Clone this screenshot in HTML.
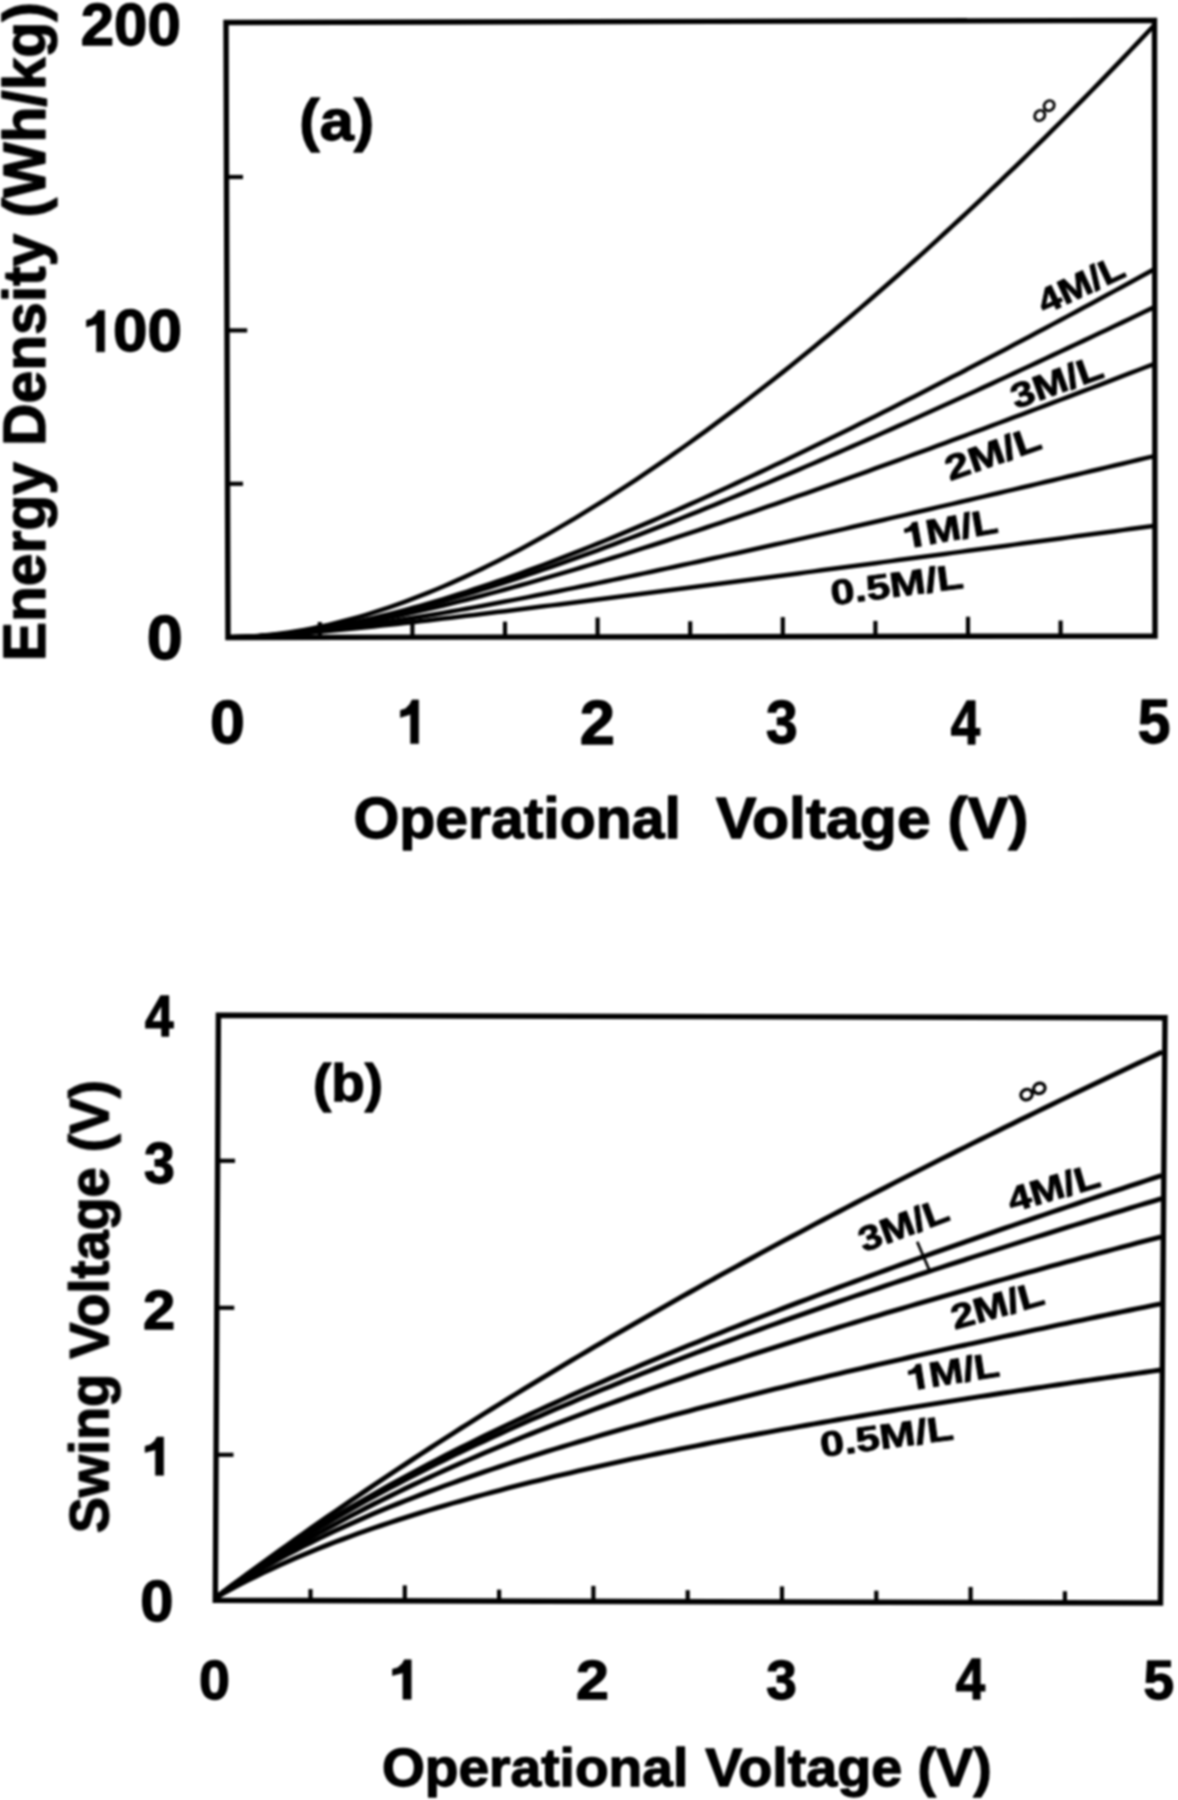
<!DOCTYPE html><html><head><meta charset="utf-8"><style>html,body{margin:0;padding:0;background:#fff;}svg{display:block;}text{font-family:"Liberation Sans",sans-serif;font-weight:bold;}</style></head><body><svg width="1178" height="1800" viewBox="0 0 1178 1800"><defs><filter id="bl" x="-2%" y="-2%" width="104%" height="104%"><feGaussianBlur stdDeviation="0.9"/></filter></defs><rect width="1178" height="1800" fill="#fff"/><g filter="url(#bl)"><g><path d="M226.00,22.50 L1154.50,20.40 L1155.00,636.00 L228.00,637.50 Z" fill="none" stroke="#000" stroke-width="5.4" stroke-linejoin="miter"/><path d="M218.40,1015.30 L1165.00,1017.80 L1160.50,1603.00 L215.30,1600.30 Z" fill="none" stroke="#000" stroke-width="5.4" stroke-linejoin="miter"/><line x1="319.80" y1="637.02" x2="319.80" y2="622.02" stroke="#000" stroke-width="4.2"/><line x1="412.40" y1="636.83" x2="412.40" y2="617.83" stroke="#000" stroke-width="4.2"/><line x1="505.00" y1="636.65" x2="505.00" y2="621.65" stroke="#000" stroke-width="4.2"/><line x1="597.60" y1="636.46" x2="597.60" y2="617.46" stroke="#000" stroke-width="4.2"/><line x1="690.20" y1="636.28" x2="690.20" y2="621.28" stroke="#000" stroke-width="4.2"/><line x1="782.80" y1="636.09" x2="782.80" y2="617.09" stroke="#000" stroke-width="4.2"/><line x1="875.40" y1="635.91" x2="875.40" y2="620.91" stroke="#000" stroke-width="4.2"/><line x1="968.00" y1="635.72" x2="968.00" y2="616.72" stroke="#000" stroke-width="4.2"/><line x1="1060.60" y1="635.54" x2="1060.60" y2="620.54" stroke="#000" stroke-width="4.2"/><line x1="227.20" y1="483.80" x2="243.00" y2="483.80" stroke="#000" stroke-width="4.2"/><line x1="227.20" y1="330.40" x2="247.20" y2="330.40" stroke="#000" stroke-width="4.2"/><line x1="227.20" y1="177.00" x2="243.00" y2="177.00" stroke="#000" stroke-width="4.2"/><line x1="310.50" y1="1602.07" x2="310.50" y2="1589.07" stroke="#000" stroke-width="4.2"/><line x1="404.80" y1="1602.34" x2="404.80" y2="1585.34" stroke="#000" stroke-width="4.2"/><line x1="499.10" y1="1602.61" x2="499.10" y2="1589.61" stroke="#000" stroke-width="4.2"/><line x1="593.40" y1="1602.88" x2="593.40" y2="1585.88" stroke="#000" stroke-width="4.2"/><line x1="687.70" y1="1603.15" x2="687.70" y2="1590.15" stroke="#000" stroke-width="4.2"/><line x1="782.00" y1="1603.42" x2="782.00" y2="1586.42" stroke="#000" stroke-width="4.2"/><line x1="876.30" y1="1603.69" x2="876.30" y2="1590.69" stroke="#000" stroke-width="4.2"/><line x1="970.60" y1="1603.96" x2="970.60" y2="1586.96" stroke="#000" stroke-width="4.2"/><line x1="1064.90" y1="1604.23" x2="1064.90" y2="1591.23" stroke="#000" stroke-width="4.2"/><line x1="216.98" y1="1454.80" x2="233.48" y2="1454.80" stroke="#000" stroke-width="4.2"/><line x1="217.76" y1="1307.80" x2="234.26" y2="1307.80" stroke="#000" stroke-width="4.2"/><line x1="218.54" y1="1160.80" x2="235.04" y2="1160.80" stroke="#000" stroke-width="4.2"/><path d="M227.20,637.20 L234.92,637.11 L242.63,636.86 L250.35,636.47 L258.07,635.94 L265.78,635.26 L273.50,634.44 L281.22,633.49 L288.93,632.41 L296.65,631.19 L304.37,629.85 L312.08,628.38 L319.80,626.79 L327.52,625.08 L335.23,623.25 L342.95,621.30 L350.67,619.24 L358.38,617.08 L366.10,614.80 L373.82,612.41 L381.53,609.92 L389.25,607.33 L396.97,604.64 L404.68,601.84 L412.40,598.95 L420.12,595.97 L427.83,592.89 L435.55,589.72 L443.27,586.46 L450.98,583.11 L458.70,579.67 L466.42,576.14 L474.13,572.54 L481.85,568.85 L489.57,565.07 L497.28,561.22 L505.00,557.29 L512.72,553.28 L520.43,549.19 L528.15,545.03 L535.87,540.80 L543.58,536.49 L551.30,532.12 L559.02,527.67 L566.73,523.15 L574.45,518.56 L582.17,513.91 L589.88,509.19 L597.60,504.41 L605.32,499.56 L613.03,494.65 L620.75,489.67 L628.47,484.64 L636.18,479.54 L643.90,474.38 L651.62,469.17 L659.33,463.89 L667.05,458.56 L674.77,453.17 L682.48,447.73 L690.20,442.23 L697.92,436.67 L705.63,431.06 L713.35,425.40 L721.07,419.68 L728.78,413.92 L736.50,408.10 L744.22,402.22 L751.93,396.30 L759.65,390.33 L767.37,384.31 L775.08,378.24 L782.80,372.12 L790.52,365.95 L798.23,359.74 L805.95,353.47 L813.67,347.17 L821.38,340.81 L829.10,334.41 L836.82,327.96 L844.53,321.46 L852.25,314.92 L859.97,308.34 L867.68,301.71 L875.40,295.04 L883.12,288.32 L890.83,281.56 L898.55,274.75 L906.27,267.90 L913.98,261.01 L921.70,254.07 L929.42,247.10 L937.13,240.07 L944.85,233.01 L952.57,225.90 L960.28,218.75 L968.00,211.56 L975.72,204.33 L983.43,197.05 L991.15,189.73 L998.87,182.37 L1006.58,174.97 L1014.30,167.53 L1022.02,160.04 L1029.73,152.51 L1037.45,144.94 L1045.17,137.32 L1052.88,129.67 L1060.60,121.97 L1068.32,114.23 L1076.03,106.44 L1083.75,98.62 L1091.47,90.75 L1099.18,82.83 L1106.90,74.88 L1114.62,66.88 L1122.33,58.84 L1130.05,50.75 L1137.77,42.62 L1145.48,34.45 L1153.20,26.23" fill="none" stroke="#000" stroke-width="4.5" stroke-linejoin="round"/><path d="M227.20,637.20 L234.92,637.12 L242.63,636.91 L250.35,636.58 L258.07,636.13 L265.78,635.57 L273.50,634.90 L281.22,634.13 L288.93,633.25 L296.65,632.28 L304.37,631.21 L312.08,630.05 L319.80,628.80 L327.52,627.47 L335.23,626.06 L342.95,624.57 L350.67,623.00 L358.38,621.36 L366.10,619.64 L373.82,617.86 L381.53,616.01 L389.25,614.09 L396.97,612.12 L404.68,610.08 L412.40,607.98 L420.12,605.82 L427.83,603.61 L435.55,601.35 L443.27,599.03 L450.98,596.66 L458.70,594.24 L466.42,591.78 L474.13,589.26 L481.85,586.71 L489.57,584.10 L497.28,581.46 L505.00,578.77 L512.72,576.04 L520.43,573.28 L528.15,570.47 L535.87,567.63 L543.58,564.75 L551.30,561.83 L559.02,558.88 L566.73,555.90 L574.45,552.88 L582.17,549.83 L589.88,546.75 L597.60,543.64 L605.32,540.50 L613.03,537.33 L620.75,534.13 L628.47,530.90 L636.18,527.65 L643.90,524.37 L651.62,521.06 L659.33,517.73 L667.05,514.38 L674.77,511.00 L682.48,507.59 L690.20,504.17 L697.92,500.72 L705.63,497.25 L713.35,493.76 L721.07,490.24 L728.78,486.71 L736.50,483.15 L744.22,479.58 L751.93,475.98 L759.65,472.37 L767.37,468.74 L775.08,465.09 L782.80,461.42 L790.52,457.74 L798.23,454.04 L805.95,450.32 L813.67,446.58 L821.38,442.83 L829.10,439.06 L836.82,435.28 L844.53,431.48 L852.25,427.67 L859.97,423.84 L867.68,420.00 L875.40,416.15 L883.12,412.28 L890.83,408.39 L898.55,404.50 L906.27,400.59 L913.98,396.67 L921.70,392.73 L929.42,388.78 L937.13,384.82 L944.85,380.85 L952.57,376.87 L960.28,372.88 L968.00,368.87 L975.72,364.85 L983.43,360.83 L991.15,356.79 L998.87,352.74 L1006.58,348.68 L1014.30,344.61 L1022.02,340.53 L1029.73,336.44 L1037.45,332.35 L1045.17,328.24 L1052.88,324.12 L1060.60,319.99 L1068.32,315.86 L1076.03,311.71 L1083.75,307.56 L1091.47,303.40 L1099.18,299.23 L1106.90,295.05 L1114.62,290.86 L1122.33,286.67 L1130.05,282.46 L1137.77,278.25 L1145.48,274.03 L1153.20,269.81" fill="none" stroke="#000" stroke-width="4.5" stroke-linejoin="round"/><path d="M227.20,637.20 L234.92,637.12 L242.63,636.92 L250.35,636.59 L258.07,636.15 L265.78,635.60 L273.50,634.95 L281.22,634.20 L288.93,633.35 L296.65,632.41 L304.37,631.38 L312.08,630.27 L319.80,629.07 L327.52,627.80 L335.23,626.45 L342.95,625.03 L350.67,623.54 L358.38,621.98 L366.10,620.36 L373.82,618.68 L381.53,616.93 L389.25,615.13 L396.97,613.27 L404.68,611.36 L412.40,609.40 L420.12,607.38 L427.83,605.32 L435.55,603.21 L443.27,601.06 L450.98,598.86 L458.70,596.61 L466.42,594.33 L474.13,592.01 L481.85,589.65 L489.57,587.25 L497.28,584.81 L505.00,582.34 L512.72,579.83 L520.43,577.29 L528.15,574.72 L535.87,572.12 L543.58,569.49 L551.30,566.82 L559.02,564.13 L566.73,561.41 L574.45,558.67 L582.17,555.89 L589.88,553.10 L597.60,550.27 L605.32,547.42 L613.03,544.55 L620.75,541.66 L628.47,538.74 L636.18,535.80 L643.90,532.84 L651.62,529.86 L659.33,526.85 L667.05,523.83 L674.77,520.79 L682.48,517.73 L690.20,514.65 L697.92,511.56 L705.63,508.44 L713.35,505.31 L721.07,502.16 L728.78,499.00 L736.50,495.82 L744.22,492.62 L751.93,489.41 L759.65,486.19 L767.37,482.95 L775.08,479.69 L782.80,476.42 L790.52,473.14 L798.23,469.84 L805.95,466.54 L813.67,463.21 L821.38,459.88 L829.10,456.53 L836.82,453.18 L844.53,449.81 L852.25,446.43 L859.97,443.03 L867.68,439.63 L875.40,436.22 L883.12,432.79 L890.83,429.36 L898.55,425.91 L906.27,422.46 L913.98,418.99 L921.70,415.52 L929.42,412.03 L937.13,408.54 L944.85,405.04 L952.57,401.53 L960.28,398.01 L968.00,394.48 L975.72,390.94 L983.43,387.40 L991.15,383.85 L998.87,380.29 L1006.58,376.72 L1014.30,373.14 L1022.02,369.56 L1029.73,365.97 L1037.45,362.37 L1045.17,358.77 L1052.88,355.15 L1060.60,351.53 L1068.32,347.91 L1076.03,344.28 L1083.75,340.64 L1091.47,336.99 L1099.18,333.34 L1106.90,329.68 L1114.62,326.02 L1122.33,322.35 L1130.05,318.68 L1137.77,314.99 L1145.48,311.31 L1153.20,307.62" fill="none" stroke="#000" stroke-width="4.5" stroke-linejoin="round"/><path d="M227.20,637.20 L234.92,637.13 L242.63,636.94 L250.35,636.64 L258.07,636.24 L265.78,635.74 L273.50,635.15 L281.22,634.47 L288.93,633.70 L296.65,632.86 L304.37,631.94 L312.08,630.94 L319.80,629.88 L327.52,628.75 L335.23,627.56 L342.95,626.30 L350.67,624.99 L358.38,623.62 L366.10,622.20 L373.82,620.73 L381.53,619.21 L389.25,617.64 L396.97,616.03 L404.68,614.37 L412.40,612.67 L420.12,610.93 L427.83,609.15 L435.55,607.34 L443.27,605.48 L450.98,603.60 L458.70,601.68 L466.42,599.73 L474.13,597.74 L481.85,595.73 L489.57,593.69 L497.28,591.62 L505.00,589.52 L512.72,587.39 L520.43,585.25 L528.15,583.07 L535.87,580.87 L543.58,578.65 L551.30,576.41 L559.02,574.15 L566.73,571.86 L574.45,569.56 L582.17,567.23 L589.88,564.88 L597.60,562.52 L605.32,560.14 L613.03,557.74 L620.75,555.33 L628.47,552.89 L636.18,550.44 L643.90,547.98 L651.62,545.50 L659.33,543.01 L667.05,540.50 L674.77,537.98 L682.48,535.44 L690.20,532.89 L697.92,530.33 L705.63,527.75 L713.35,525.17 L721.07,522.57 L728.78,519.96 L736.50,517.33 L744.22,514.70 L751.93,512.06 L759.65,509.40 L767.37,506.74 L775.08,504.06 L782.80,501.38 L790.52,498.68 L798.23,495.98 L805.95,493.27 L813.67,490.55 L821.38,487.82 L829.10,485.08 L836.82,482.33 L844.53,479.57 L852.25,476.81 L859.97,474.04 L867.68,471.26 L875.40,468.47 L883.12,465.68 L890.83,462.88 L898.55,460.07 L906.27,457.26 L913.98,454.44 L921.70,451.61 L929.42,448.77 L937.13,445.93 L944.85,443.09 L952.57,440.23 L960.28,437.38 L968.00,434.51 L975.72,431.64 L983.43,428.77 L991.15,425.89 L998.87,423.00 L1006.58,420.11 L1014.30,417.21 L1022.02,414.31 L1029.73,411.40 L1037.45,408.49 L1045.17,405.57 L1052.88,402.65 L1060.60,399.73 L1068.32,396.80 L1076.03,393.86 L1083.75,390.92 L1091.47,387.98 L1099.18,385.03 L1106.90,382.08 L1114.62,379.12 L1122.33,376.17 L1130.05,373.20 L1137.77,370.23 L1145.48,367.26 L1153.20,364.29" fill="none" stroke="#000" stroke-width="4.5" stroke-linejoin="round"/><path d="M227.20,637.20 L234.92,637.13 L242.63,636.96 L250.35,636.70 L258.07,636.35 L265.78,635.93 L273.50,635.43 L281.22,634.86 L288.93,634.23 L296.65,633.54 L304.37,632.79 L312.08,631.99 L319.80,631.14 L327.52,630.25 L335.23,629.32 L342.95,628.34 L350.67,627.33 L358.38,626.28 L366.10,625.20 L373.82,624.08 L381.53,622.94 L389.25,621.77 L396.97,620.57 L404.68,619.34 L412.40,618.09 L420.12,616.82 L427.83,615.52 L435.55,614.21 L443.27,612.87 L450.98,611.52 L458.70,610.15 L466.42,608.76 L474.13,607.35 L481.85,605.93 L489.57,604.49 L497.28,603.04 L505.00,601.57 L512.72,600.09 L520.43,598.60 L528.15,597.10 L535.87,595.58 L543.58,594.05 L551.30,592.52 L559.02,590.97 L566.73,589.41 L574.45,587.84 L582.17,586.26 L589.88,584.68 L597.60,583.08 L605.32,581.48 L613.03,579.87 L620.75,578.25 L628.47,576.62 L636.18,574.99 L643.90,573.35 L651.62,571.70 L659.33,570.05 L667.05,568.38 L674.77,566.72 L682.48,565.05 L690.20,563.37 L697.92,561.68 L705.63,559.99 L713.35,558.30 L721.07,556.60 L728.78,554.89 L736.50,553.18 L744.22,551.47 L751.93,549.75 L759.65,548.03 L767.37,546.30 L775.08,544.57 L782.80,542.83 L790.52,541.10 L798.23,539.35 L805.95,537.61 L813.67,535.86 L821.38,534.10 L829.10,532.34 L836.82,530.58 L844.53,528.82 L852.25,527.05 L859.97,525.28 L867.68,523.51 L875.40,521.73 L883.12,519.95 L890.83,518.17 L898.55,516.39 L906.27,514.60 L913.98,512.81 L921.70,511.02 L929.42,509.23 L937.13,507.43 L944.85,505.63 L952.57,503.83 L960.28,502.02 L968.00,500.22 L975.72,498.41 L983.43,496.60 L991.15,494.79 L998.87,492.97 L1006.58,491.16 L1014.30,489.34 L1022.02,487.52 L1029.73,485.70 L1037.45,483.88 L1045.17,482.05 L1052.88,480.22 L1060.60,478.39 L1068.32,476.56 L1076.03,474.73 L1083.75,472.90 L1091.47,471.06 L1099.18,469.23 L1106.90,467.39 L1114.62,465.55 L1122.33,463.71 L1130.05,461.87 L1137.77,460.02 L1145.48,458.18 L1153.20,456.33" fill="none" stroke="#000" stroke-width="4.5" stroke-linejoin="round"/><path d="M227.20,637.20 L234.92,637.13 L242.63,636.95 L250.35,636.68 L258.07,636.34 L265.78,635.93 L273.50,635.47 L281.22,634.95 L288.93,634.40 L296.65,633.80 L304.37,633.17 L312.08,632.51 L319.80,631.82 L327.52,631.11 L335.23,630.38 L342.95,629.62 L350.67,628.85 L358.38,628.06 L366.10,627.25 L373.82,626.43 L381.53,625.60 L389.25,624.76 L396.97,623.90 L404.68,623.04 L412.40,622.17 L420.12,621.28 L427.83,620.39 L435.55,619.49 L443.27,618.59 L450.98,617.68 L458.70,616.76 L466.42,615.84 L474.13,614.91 L481.85,613.97 L489.57,613.04 L497.28,612.09 L505.00,611.15 L512.72,610.19 L520.43,609.24 L528.15,608.28 L535.87,607.32 L543.58,606.35 L551.30,605.39 L559.02,604.41 L566.73,603.44 L574.45,602.46 L582.17,601.49 L589.88,600.50 L597.60,599.52 L605.32,598.53 L613.03,597.55 L620.75,596.56 L628.47,595.56 L636.18,594.57 L643.90,593.58 L651.62,592.58 L659.33,591.58 L667.05,590.58 L674.77,589.58 L682.48,588.58 L690.20,587.57 L697.92,586.57 L705.63,585.56 L713.35,584.55 L721.07,583.54 L728.78,582.53 L736.50,581.52 L744.22,580.51 L751.93,579.50 L759.65,578.48 L767.37,577.47 L775.08,576.45 L782.80,575.43 L790.52,574.41 L798.23,573.40 L805.95,572.38 L813.67,571.36 L821.38,570.34 L829.10,569.31 L836.82,568.29 L844.53,567.27 L852.25,566.24 L859.97,565.22 L867.68,564.20 L875.40,563.17 L883.12,562.14 L890.83,561.12 L898.55,560.09 L906.27,559.06 L913.98,558.03 L921.70,557.01 L929.42,555.98 L937.13,554.95 L944.85,553.92 L952.57,552.89 L960.28,551.86 L968.00,550.82 L975.72,549.79 L983.43,548.76 L991.15,547.73 L998.87,546.69 L1006.58,545.66 L1014.30,544.63 L1022.02,543.59 L1029.73,542.56 L1037.45,541.52 L1045.17,540.49 L1052.88,539.45 L1060.60,538.42 L1068.32,537.38 L1076.03,536.35 L1083.75,535.31 L1091.47,534.27 L1099.18,533.24 L1106.90,532.20 L1114.62,531.16 L1122.33,530.12 L1130.05,529.08 L1137.77,528.05 L1145.48,527.01 L1153.20,525.97" fill="none" stroke="#000" stroke-width="4.5" stroke-linejoin="round"/><path d="M216.22,1597.39 L224.11,1591.43 L232.00,1585.52 L239.89,1579.64 L247.78,1573.80 L255.67,1568.00 L263.56,1562.23 L271.45,1556.50 L279.34,1550.81 L287.23,1545.15 L295.11,1539.52 L303.00,1533.93 L310.89,1528.37 L318.78,1522.84 L326.67,1517.35 L334.55,1511.89 L342.44,1506.46 L350.33,1501.06 L358.22,1495.69 L366.10,1490.35 L373.99,1485.03 L381.88,1479.75 L389.76,1474.50 L397.65,1469.27 L405.53,1464.08 L413.42,1458.91 L421.31,1453.76 L429.19,1448.65 L437.08,1443.56 L444.96,1438.49 L452.85,1433.45 L460.73,1428.44 L468.62,1423.45 L476.50,1418.48 L484.39,1413.54 L492.27,1408.62 L500.16,1403.73 L508.04,1398.86 L515.92,1394.01 L523.81,1389.18 L531.69,1384.38 L539.58,1379.59 L547.46,1374.83 L555.34,1370.09 L563.23,1365.37 L571.11,1360.67 L578.99,1356.00 L586.88,1351.34 L594.76,1346.70 L602.64,1342.08 L610.53,1337.48 L618.41,1332.90 L626.29,1328.34 L634.17,1323.80 L642.06,1319.27 L649.94,1314.77 L657.82,1310.28 L665.70,1305.81 L673.58,1301.35 L681.47,1296.92 L689.35,1292.50 L697.23,1288.09 L705.11,1283.71 L712.99,1279.34 L720.88,1274.98 L728.76,1270.65 L736.64,1266.32 L744.52,1262.02 L752.40,1257.73 L760.28,1253.45 L768.16,1249.19 L776.04,1244.94 L783.92,1240.71 L791.81,1236.50 L799.69,1232.29 L807.57,1228.10 L815.45,1223.93 L823.33,1219.77 L831.21,1215.62 L839.09,1211.49 L846.97,1207.37 L854.85,1203.26 L862.73,1199.17 L870.61,1195.09 L878.49,1191.02 L886.37,1186.96 L894.25,1182.92 L902.13,1178.89 L910.01,1174.87 L917.89,1170.87 L925.77,1166.87 L933.65,1162.89 L941.53,1158.92 L949.41,1154.96 L957.29,1151.01 L965.17,1147.07 L973.05,1143.15 L980.92,1139.23 L988.80,1135.33 L996.68,1131.43 L1004.56,1127.55 L1012.44,1123.68 L1020.32,1119.82 L1028.20,1115.97 L1036.08,1112.13 L1043.96,1108.30 L1051.83,1104.48 L1059.71,1100.66 L1067.59,1096.86 L1075.47,1093.07 L1083.35,1089.29 L1091.23,1085.52 L1099.11,1081.76 L1106.98,1078.00 L1114.86,1074.26 L1122.74,1070.52 L1130.62,1066.80 L1138.50,1063.08 L1146.38,1059.37 L1154.25,1055.67 L1162.13,1051.98" fill="none" stroke="#000" stroke-width="4.9" stroke-linejoin="round"/><path d="M216.22,1597.39 L224.11,1591.38 L232.00,1585.47 L239.89,1579.68 L247.78,1573.98 L255.67,1568.39 L263.56,1562.89 L271.44,1557.48 L279.33,1552.15 L287.22,1546.91 L295.10,1541.76 L302.99,1536.67 L310.87,1531.67 L318.76,1526.73 L326.64,1521.87 L334.53,1517.07 L342.41,1512.34 L350.29,1507.67 L358.18,1503.06 L366.06,1498.50 L373.94,1494.01 L381.82,1489.57 L389.70,1485.18 L397.59,1480.84 L405.47,1476.55 L413.35,1472.31 L421.23,1468.11 L429.11,1463.96 L436.99,1459.86 L444.87,1455.79 L452.75,1451.77 L460.63,1447.78 L468.51,1443.84 L476.39,1439.93 L484.27,1436.06 L492.15,1432.22 L500.02,1428.42 L507.90,1424.65 L515.78,1420.91 L523.66,1417.20 L531.54,1413.53 L539.41,1409.88 L547.29,1406.26 L555.17,1402.67 L563.05,1399.11 L570.92,1395.58 L578.80,1392.07 L586.68,1388.59 L594.56,1385.13 L602.43,1381.69 L610.31,1378.28 L618.19,1374.89 L626.06,1371.53 L633.94,1368.18 L641.81,1364.86 L649.69,1361.56 L657.57,1358.27 L665.44,1355.01 L673.32,1351.77 L681.19,1348.54 L689.07,1345.34 L696.94,1342.15 L704.82,1338.98 L712.69,1335.82 L720.57,1332.69 L728.44,1329.57 L736.32,1326.46 L744.19,1323.37 L752.07,1320.30 L759.94,1317.24 L767.82,1314.20 L775.69,1311.17 L783.57,1308.15 L791.44,1305.15 L799.32,1302.16 L807.19,1299.19 L815.06,1296.23 L822.94,1293.28 L830.81,1290.34 L838.69,1287.41 L846.56,1284.50 L854.43,1281.60 L862.31,1278.71 L870.18,1275.83 L878.05,1272.96 L885.93,1270.11 L893.80,1267.26 L901.68,1264.43 L909.55,1261.60 L917.42,1258.78 L925.30,1255.98 L933.17,1253.18 L941.04,1250.39 L948.92,1247.62 L956.79,1244.85 L964.66,1242.09 L972.53,1239.34 L980.41,1236.60 L988.28,1233.86 L996.15,1231.14 L1004.03,1228.42 L1011.90,1225.71 L1019.77,1223.01 L1027.64,1220.31 L1035.52,1217.63 L1043.39,1214.95 L1051.26,1212.28 L1059.14,1209.61 L1067.01,1206.96 L1074.88,1204.31 L1082.75,1201.66 L1090.63,1199.03 L1098.50,1196.40 L1106.37,1193.77 L1114.24,1191.16 L1122.11,1188.55 L1129.99,1185.94 L1137.86,1183.34 L1145.73,1180.75 L1153.60,1178.17 L1161.48,1175.59" fill="none" stroke="#000" stroke-width="4.9" stroke-linejoin="round"/><path d="M216.22,1597.39 L224.11,1591.43 L232.00,1585.59 L239.89,1579.86 L247.78,1574.25 L255.67,1568.74 L263.55,1563.33 L271.44,1558.03 L279.33,1552.81 L287.21,1547.69 L295.10,1542.65 L302.98,1537.70 L310.87,1532.82 L318.75,1528.02 L326.63,1523.30 L334.52,1518.65 L342.40,1514.06 L350.28,1509.55 L358.17,1505.09 L366.05,1500.70 L373.93,1496.37 L381.81,1492.09 L389.69,1487.87 L397.57,1483.71 L405.45,1479.59 L413.33,1475.53 L421.21,1471.51 L429.09,1467.54 L436.97,1463.62 L444.85,1459.74 L452.73,1455.90 L460.61,1452.10 L468.48,1448.35 L476.36,1444.63 L484.24,1440.95 L492.12,1437.31 L500.00,1433.70 L507.87,1430.13 L515.75,1426.59 L523.63,1423.08 L531.50,1419.60 L539.38,1416.16 L547.26,1412.74 L555.13,1409.36 L563.01,1406.00 L570.89,1402.67 L578.76,1399.36 L586.64,1396.08 L594.51,1392.83 L602.39,1389.60 L610.27,1386.40 L618.14,1383.22 L626.02,1380.06 L633.89,1376.92 L641.77,1373.81 L649.64,1370.72 L657.52,1367.64 L665.39,1364.59 L673.27,1361.56 L681.14,1358.54 L689.01,1355.55 L696.89,1352.57 L704.76,1349.61 L712.64,1346.67 L720.51,1343.75 L728.38,1340.84 L736.26,1337.95 L744.13,1335.07 L752.01,1332.21 L759.88,1329.37 L767.75,1326.54 L775.63,1323.72 L783.50,1320.92 L791.37,1318.13 L799.25,1315.36 L807.12,1312.60 L814.99,1309.85 L822.86,1307.12 L830.74,1304.39 L838.61,1301.68 L846.48,1298.99 L854.36,1296.30 L862.23,1293.62 L870.10,1290.96 L877.97,1288.31 L885.85,1285.67 L893.72,1283.04 L901.59,1280.41 L909.46,1277.80 L917.34,1275.20 L925.21,1272.61 L933.08,1270.03 L940.95,1267.46 L948.82,1264.90 L956.70,1262.34 L964.57,1259.80 L972.44,1257.26 L980.31,1254.74 L988.18,1252.22 L996.06,1249.71 L1003.93,1247.21 L1011.80,1244.71 L1019.67,1242.22 L1027.54,1239.75 L1035.41,1237.27 L1043.28,1234.81 L1051.16,1232.35 L1059.03,1229.91 L1066.90,1227.46 L1074.77,1225.03 L1082.64,1222.60 L1090.51,1220.18 L1098.38,1217.76 L1106.26,1215.35 L1114.13,1212.95 L1122.00,1210.56 L1129.87,1208.17 L1137.74,1205.78 L1145.61,1203.40 L1153.48,1201.03 L1161.35,1198.67" fill="none" stroke="#000" stroke-width="4.9" stroke-linejoin="round"/><path d="M216.22,1597.39 L224.11,1591.88 L232.00,1586.47 L239.88,1581.17 L247.77,1575.98 L255.66,1570.88 L263.54,1565.88 L271.43,1560.97 L279.31,1556.15 L287.19,1551.41 L295.08,1546.75 L302.96,1542.17 L310.84,1537.66 L318.72,1533.23 L326.61,1528.86 L334.49,1524.57 L342.37,1520.33 L350.25,1516.16 L358.13,1512.05 L366.01,1508.00 L373.89,1504.01 L381.77,1500.07 L389.65,1496.18 L397.53,1492.35 L405.40,1488.56 L413.28,1484.82 L421.16,1481.13 L429.04,1477.49 L436.92,1473.88 L444.79,1470.32 L452.67,1466.80 L460.55,1463.32 L468.42,1459.88 L476.30,1456.48 L484.18,1453.11 L492.05,1449.78 L499.93,1446.48 L507.80,1443.22 L515.68,1439.99 L523.56,1436.79 L531.43,1433.62 L539.31,1430.48 L547.18,1427.37 L555.06,1424.29 L562.93,1421.24 L570.80,1418.21 L578.68,1415.21 L586.55,1412.23 L594.43,1409.28 L602.30,1406.36 L610.18,1403.45 L618.05,1400.58 L625.92,1397.72 L633.80,1394.88 L641.67,1392.07 L649.54,1389.28 L657.42,1386.51 L665.29,1383.75 L673.16,1381.02 L681.03,1378.31 L688.91,1375.61 L696.78,1372.93 L704.65,1370.28 L712.53,1367.63 L720.40,1365.01 L728.27,1362.40 L736.14,1359.81 L744.01,1357.23 L751.89,1354.67 L759.76,1352.12 L767.63,1349.59 L775.50,1347.08 L783.37,1344.57 L791.25,1342.09 L799.12,1339.61 L806.99,1337.15 L814.86,1334.70 L822.73,1332.27 L830.60,1329.84 L838.47,1327.43 L846.34,1325.03 L854.22,1322.65 L862.09,1320.27 L869.96,1317.91 L877.83,1315.56 L885.70,1313.21 L893.57,1310.88 L901.44,1308.56 L909.31,1306.25 L917.18,1303.95 L925.05,1301.66 L932.92,1299.38 L940.79,1297.11 L948.66,1294.85 L956.54,1292.60 L964.41,1290.35 L972.28,1288.12 L980.15,1285.89 L988.02,1283.67 L995.89,1281.47 L1003.76,1279.26 L1011.63,1277.07 L1019.50,1274.89 L1027.37,1272.71 L1035.24,1270.54 L1043.11,1268.38 L1050.98,1266.23 L1058.85,1264.08 L1066.72,1261.94 L1074.59,1259.81 L1082.46,1257.68 L1090.33,1255.56 L1098.20,1253.45 L1106.06,1251.35 L1113.93,1249.25 L1121.80,1247.16 L1129.67,1245.07 L1137.54,1242.99 L1145.41,1240.92 L1153.28,1238.85 L1161.15,1236.79" fill="none" stroke="#000" stroke-width="4.9" stroke-linejoin="round"/><path d="M216.22,1597.39 L224.11,1592.07 L232.00,1586.92 L239.88,1581.92 L247.77,1577.06 L255.65,1572.33 L263.53,1567.73 L271.41,1563.26 L279.30,1558.89 L287.18,1554.64 L295.06,1550.49 L302.94,1546.43 L310.82,1542.47 L318.70,1538.59 L326.57,1534.80 L334.45,1531.09 L342.33,1527.46 L350.21,1523.90 L358.08,1520.41 L365.96,1516.98 L373.84,1513.62 L381.71,1510.32 L389.59,1507.07 L397.46,1503.89 L405.34,1500.75 L413.21,1497.67 L421.09,1494.64 L428.96,1491.65 L436.84,1488.71 L444.71,1485.81 L452.58,1482.95 L460.46,1480.14 L468.33,1477.36 L476.20,1474.62 L484.08,1471.92 L491.95,1469.25 L499.82,1466.62 L507.69,1464.01 L515.57,1461.44 L523.44,1458.90 L531.31,1456.39 L539.18,1453.90 L547.05,1451.45 L554.92,1449.02 L562.80,1446.61 L570.67,1444.23 L578.54,1441.87 L586.41,1439.54 L594.28,1437.23 L602.15,1434.94 L610.02,1432.67 L617.89,1430.42 L625.76,1428.20 L633.63,1425.99 L641.50,1423.80 L649.37,1421.63 L657.24,1419.47 L665.11,1417.33 L672.98,1415.21 L680.85,1413.11 L688.72,1411.02 L696.59,1408.95 L704.46,1406.89 L712.33,1404.84 L720.20,1402.81 L728.07,1400.80 L735.94,1398.79 L743.80,1396.80 L751.67,1394.83 L759.54,1392.86 L767.41,1390.91 L775.28,1388.97 L783.15,1387.04 L791.02,1385.12 L798.89,1383.21 L806.75,1381.31 L814.62,1379.42 L822.49,1377.55 L830.36,1375.68 L838.23,1373.82 L846.10,1371.98 L853.96,1370.14 L861.83,1368.31 L869.70,1366.49 L877.57,1364.67 L885.44,1362.87 L893.30,1361.07 L901.17,1359.29 L909.04,1357.51 L916.91,1355.73 L924.78,1353.97 L932.64,1352.21 L940.51,1350.46 L948.38,1348.72 L956.25,1346.98 L964.11,1345.25 L971.98,1343.53 L979.85,1341.81 L987.72,1340.10 L995.58,1338.40 L1003.45,1336.70 L1011.32,1335.01 L1019.19,1333.32 L1027.05,1331.64 L1034.92,1329.97 L1042.79,1328.30 L1050.66,1326.63 L1058.52,1324.97 L1066.39,1323.32 L1074.26,1321.67 L1082.12,1320.03 L1089.99,1318.39 L1097.86,1316.76 L1105.73,1315.13 L1113.59,1313.50 L1121.46,1311.88 L1129.33,1310.27 L1137.19,1308.66 L1145.06,1307.05 L1152.93,1305.45 L1160.80,1303.85" fill="none" stroke="#000" stroke-width="4.9" stroke-linejoin="round"/><path d="M216.22,1597.39 L224.11,1592.95 L231.99,1588.64 L239.87,1584.46 L247.75,1580.41 L255.63,1576.47 L263.51,1572.65 L271.38,1568.92 L279.26,1565.30 L287.14,1561.77 L295.02,1558.33 L302.89,1554.97 L310.77,1551.70 L318.64,1548.50 L326.52,1545.38 L334.39,1542.33 L342.27,1539.34 L350.14,1536.43 L358.01,1533.57 L365.89,1530.77 L373.76,1528.03 L381.63,1525.34 L389.51,1522.71 L397.38,1520.12 L405.25,1517.58 L413.12,1515.09 L420.99,1512.65 L428.86,1510.24 L436.74,1507.88 L444.61,1505.56 L452.48,1503.27 L460.35,1501.02 L468.22,1498.81 L476.09,1496.63 L483.96,1494.49 L491.83,1492.37 L499.70,1490.29 L507.57,1488.23 L515.43,1486.21 L523.30,1484.21 L531.17,1482.24 L539.04,1480.30 L546.91,1478.38 L554.78,1476.48 L562.65,1474.61 L570.52,1472.76 L578.38,1470.94 L586.25,1469.13 L594.12,1467.35 L601.99,1465.58 L609.85,1463.84 L617.72,1462.12 L625.59,1460.41 L633.46,1458.72 L641.32,1457.05 L649.19,1455.39 L657.06,1453.76 L664.93,1452.13 L672.79,1450.53 L680.66,1448.94 L688.53,1447.36 L696.39,1445.80 L704.26,1444.25 L712.13,1442.71 L719.99,1441.19 L727.86,1439.68 L735.73,1438.19 L743.59,1436.70 L751.46,1435.23 L759.32,1433.77 L767.19,1432.32 L775.06,1430.89 L782.92,1429.46 L790.79,1428.04 L798.65,1426.64 L806.52,1425.24 L814.39,1423.86 L822.25,1422.48 L830.12,1421.11 L837.98,1419.76 L845.85,1418.41 L853.71,1417.07 L861.58,1415.74 L869.45,1414.41 L877.31,1413.10 L885.18,1411.79 L893.04,1410.49 L900.91,1409.20 L908.77,1407.92 L916.64,1406.64 L924.50,1405.37 L932.37,1404.11 L940.23,1402.85 L948.10,1401.60 L955.96,1400.36 L963.83,1399.13 L971.69,1397.90 L979.56,1396.67 L987.42,1395.46 L995.29,1394.25 L1003.15,1393.04 L1011.02,1391.84 L1018.88,1390.65 L1026.75,1389.46 L1034.61,1388.28 L1042.48,1387.10 L1050.34,1385.93 L1058.21,1384.76 L1066.07,1383.60 L1073.94,1382.44 L1081.80,1381.29 L1089.66,1380.14 L1097.53,1378.99 L1105.39,1377.86 L1113.26,1376.72 L1121.12,1375.59 L1128.99,1374.47 L1136.85,1373.35 L1144.72,1372.23 L1152.58,1371.11 L1160.44,1370.01" fill="none" stroke="#000" stroke-width="4.9" stroke-linejoin="round"/><g transform="translate(1044.45,110.60) rotate(-46.30)"><ellipse cx="-6.80" cy="0" rx="5.40" ry="4.80" fill="none" stroke="#000" stroke-width="2.8"/><ellipse cx="6.80" cy="0" rx="5.40" ry="4.80" fill="none" stroke="#000" stroke-width="2.8"/></g><g transform="translate(1032.95,1091.50) rotate(-25.80)"><ellipse cx="-7.10" cy="0" rx="5.80" ry="5.10" fill="none" stroke="#000" stroke-width="3.3"/><ellipse cx="7.10" cy="0" rx="5.80" ry="5.10" fill="none" stroke="#000" stroke-width="3.3"/></g><line x1="917.20" y1="1241.80" x2="929.40" y2="1270.30" stroke="#000" stroke-width="2.8"/></g><g font-family="Liberation Sans, sans-serif" font-weight="bold" fill="#000" stroke="#000" stroke-width="1.3" stroke-linejoin="round"><text transform="translate(80.80,44.71) scale(1.0132,1)" font-size="59.15">200</text><path d="M96.55,351.80 L104.60,351.80 L104.60,310.40 L98.01,310.40 L95.82,314.54 L91.42,318.68 L86.30,320.34 L86.30,326.96 L96.55,324.06 Z" fill="#000" stroke="#000" stroke-width="0.6"/><text transform="translate(112.92,351.22) scale(1.0640,1)" font-size="58.31">00</text><text transform="translate(146.81,659.48) scale(1.0439,1)" font-size="62.11">0</text><text transform="translate(210.09,742.98) scale(1.0193,1)" font-size="61.55">0</text><text transform="translate(579.68,743.60) scale(1.0145,1)" font-size="62.43">2</text><text transform="translate(765.98,742.98) scale(0.9256,1)" font-size="61.55">3</text><text transform="translate(950.81,743.60) scale(0.8352,1)" font-size="63.33">4</text><text transform="translate(1137.64,742.98) scale(0.9419,1)" font-size="62.43">5</text><path d="M410.59,743.60 L418.60,743.60 L418.60,699.90 L412.05,699.90 L409.86,704.27 L405.50,708.64 L400.40,710.39 L400.40,717.38 L410.59,714.32 Z" fill="#000" stroke="#000" stroke-width="0.6"/><text transform="translate(353.44,838.30) scale(1.0109,1)" font-size="58.30">Operational</text><text transform="translate(715.99,838.30) scale(1.0410,1)" font-size="58.30">Voltage (V)</text><text transform="translate(44.90,657.40) rotate(-90) scale(0.9869,1) translate(-3.87,0)" font-size="59.50">Energy Density (Wh/kg)</text><text transform="translate(299.33,139.67) scale(1.0620,1)" font-size="57.75">(a)</text><text transform="translate(144.93,1035.60) scale(0.9025,1)" font-size="56.96">4</text><text transform="translate(144.01,1182.82) scale(0.9551,1)" font-size="58.17">3</text><text transform="translate(143.07,1328.50) scale(1.0290,1)" font-size="56.29">2</text><text transform="translate(140.31,1620.92) scale(1.0304,1)" font-size="58.03">0</text><path d="M155.46,1475.30 L163.60,1475.30 L163.60,1437.10 L156.94,1437.10 L154.72,1440.92 L150.28,1444.74 L145.10,1446.27 L145.10,1452.38 L155.46,1449.71 Z" fill="#000" stroke="#000" stroke-width="0.6"/><text transform="translate(198.98,1698.65) scale(1.0015,1)" font-size="55.49">0</text><text transform="translate(575.93,1699.20) scale(1.0512,1)" font-size="56.29">2</text><text transform="translate(766.33,1698.65) scale(0.9902,1)" font-size="55.49">3</text><text transform="translate(955.81,1699.20) scale(0.9264,1)" font-size="57.10">4</text><text transform="translate(1143.55,1698.64) scale(0.9772,1)" font-size="56.29">5</text><path d="M402.93,1699.20 L411.20,1699.20 L411.20,1659.80 L404.43,1659.80 L402.18,1663.74 L397.66,1667.68 L392.40,1669.26 L392.40,1675.56 L402.93,1672.80 Z" fill="#000" stroke="#000" stroke-width="0.6"/><text transform="translate(381.89,1785.80) scale(1.0232,1)" font-size="53.90">Operational</text><text transform="translate(705.34,1785.80) scale(1.0323,1)" font-size="53.90">Voltage (V)</text><text transform="translate(108.30,1531.60) rotate(-90) scale(0.9722,1) translate(-1.67,0)" font-size="55.70">Swing Voltage (V)</text><text transform="translate(313.06,1101.27) scale(1.0636,1)" font-size="51.55">(b)</text></g><g font-family="Liberation Sans, sans-serif" font-weight="bold" fill="#000" stroke="#000" stroke-width="0.9" stroke-linejoin="round"><g transform="translate(1049.70,298.90) rotate(-25.00) scale(1.1487,1) translate(-9.89,12.07)"><text font-size="35.00" letter-spacing="0.00">4M/L</text></g><g transform="translate(1022.40,394.00) rotate(-19.87) scale(1.1996,1) translate(-9.54,12.07)"><text font-size="35.00" letter-spacing="0.00">3M/L</text></g><g transform="translate(957.30,465.40) rotate(-19.32) scale(1.2422,1) translate(-9.62,12.25)"><text font-size="35.00" letter-spacing="0.00">2M/L</text></g><g transform="translate(912.40,535.10) rotate(-10.03) scale(1.2017,1) translate(-8.14,12.25)"><text font-size="35.00" letter-spacing="0.00"> M/L</text><path d="M8.75,0.00 L13.83,0.00 L13.83,-24.50 L9.97,-24.50 L8.57,-22.05 L5.60,-20.12 L2.45,-19.43 L2.45,-15.93 L8.75,-16.62 Z"/></g><g transform="translate(842.40,591.70) rotate(-7.52) scale(1.2259,1) translate(-9.71,12.07)"><text font-size="35.00" letter-spacing="0.00">0.5M/L</text></g><g transform="translate(1019.50,1197.70) rotate(-16.36) scale(1.1827,1) translate(-9.89,12.07)"><text font-size="35.00" letter-spacing="0.00">4M/L</text></g><g transform="translate(870.10,1237.20) rotate(-20.44) scale(1.1720,1) translate(-9.54,12.07)"><text font-size="35.00" letter-spacing="0.00">3M/L</text></g><g transform="translate(962.40,1314.80) rotate(-15.77) scale(1.1940,1) translate(-9.62,12.25)"><text font-size="35.00" letter-spacing="0.00">2M/L</text></g><g transform="translate(916.00,1377.20) rotate(-9.07) scale(1.1736,1) translate(-8.14,12.25)"><text font-size="35.00" letter-spacing="0.00"> M/L</text><path d="M8.75,0.00 L13.83,0.00 L13.83,-24.50 L9.97,-24.50 L8.57,-22.05 L5.60,-20.12 L2.45,-19.43 L2.45,-15.93 L8.75,-16.62 Z"/></g><g transform="translate(832.00,1443.50) rotate(-7.60) scale(1.2306,1) translate(-9.71,12.07)"><text font-size="35.00" letter-spacing="0.00">0.5M/L</text></g></g></g></svg></body></html>
